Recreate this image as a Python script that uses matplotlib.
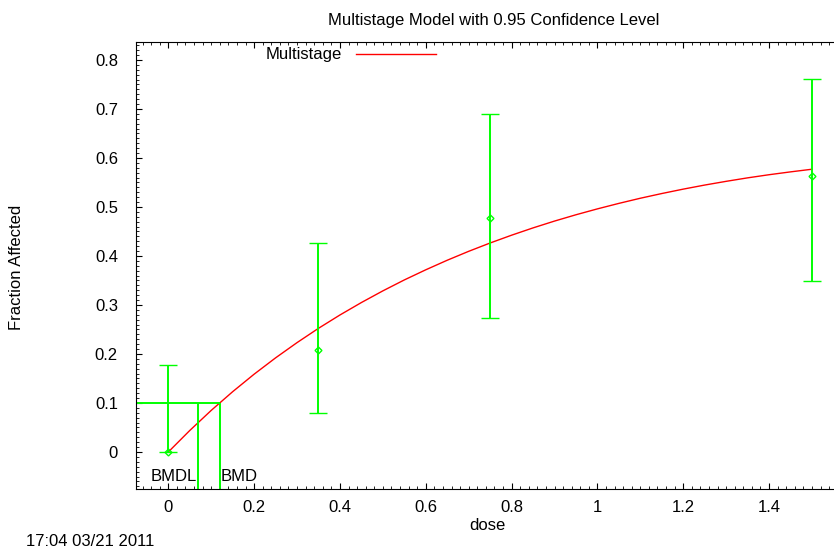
import matplotlib
matplotlib.use("Agg")
import matplotlib.pyplot as plt
from matplotlib.ticker import MultipleLocator

plt.rcParams['font.family'] = ['Liberation Sans', 'DejaVu Sans']

# observed data (dose, fraction affected, 95% CI)
dose = [0.0, 0.35, 0.75, 1.5]
frac = [0.0, 0.208, 0.478, 0.564]
ci_low = [0.0, 0.079, 0.273, 0.348]
ci_high = [0.177, 0.426, 0.689, 0.761]

# fitted multistage curve
curve_dose = [0.0, 0.05, 0.1, 0.15, 0.2, 0.25, 0.3, 0.35, 0.4, 0.45, 0.5, 0.55, 0.6, 0.65,
              0.7, 0.75, 0.8, 0.85, 0.9, 0.95, 1.0, 1.05, 1.1, 1.15, 1.2, 1.25, 1.3, 1.35,
              1.4, 1.45, 1.5]
curve_frac = [0.0, 0.0439, 0.0849, 0.1231, 0.1588, 0.1921, 0.2232, 0.2524, 0.2796, 0.3050,
              0.3288, 0.3511, 0.3718, 0.3913, 0.4095, 0.4265, 0.4424, 0.4573, 0.4712,
              0.4841, 0.4961, 0.5073, 0.5178, 0.5274, 0.5364, 0.5447, 0.5523, 0.5594,
              0.5658, 0.5716, 0.5770]

bmr = 0.1
bmdl = 0.070
bmd = 0.1205

xlim = (-0.0753, 1.549)
ylim = (-0.0755, 0.836)

green = '#00ff00'
red = '#ff0000'
fs = 12

fig = plt.figure(figsize=(8.34, 5.5), dpi=100)
ax = fig.add_axes([136 / 834, 1 - 489 / 550, 697 / 834, (489 - 42.3) / 550])

# model curve
ax.plot(curve_dose, curve_frac, color=red, lw=1.0, label='Multistage')

# data with error bars
yerr = [[f - lo for f, lo in zip(frac, ci_low)], [hi - f for f, hi in zip(frac, ci_high)]]
ax.errorbar(dose, frac, yerr=yerr, fmt='D', mfc='none', mec=green, ms=3.5, mew=1.0,
            ecolor=green, elinewidth=1.4, capsize=6.5, capthick=1.4, zorder=3)

# BMD / BMDL lines
ax.hlines(bmr, xlim[0], bmd, color=green, lw=1.4)
ax.vlines([bmdl, bmd], ylim[0], bmr, color=green, lw=1.4)
ax.text(bmdl - 0.004, -0.05, 'BMDL', ha='right', va='center', fontsize=fs)
ax.text(bmd + 0.001, -0.05, 'BMD', ha='left', va='center', fontsize=fs)

ax.set_xlim(*xlim)
ax.set_ylim(*ylim)
ax.xaxis.set_minor_locator(MultipleLocator(0.02))
ax.yaxis.set_minor_locator(MultipleLocator(0.01))
ax.set_xticks([0, 0.2, 0.4, 0.6, 0.8, 1.0, 1.2, 1.4])
ax.set_xticklabels(['0', '0.2', '0.4', '0.6', '0.8', '1', '1.2', '1.4'])
ax.set_yticks([0, 0.1, 0.2, 0.3, 0.4, 0.5, 0.6, 0.7, 0.8])
ax.set_yticklabels(['0', '0.1', '0.2', '0.3', '0.4', '0.5', '0.6', '0.7', '0.8'])
ax.tick_params(which='both', direction='in', top=True, right=False, labelsize=fs)
ax.tick_params(which='major', length=4.5, width=0.8)
ax.tick_params(which='minor', length=2.5, width=0.6)
ax.tick_params(axis='x', pad=8)
ax.tick_params(axis='y', pad=13)
ax.spines['right'].set_visible(False)

fig.text(487 / 834, 1 - 526 / 550, 'dose', ha='center', va='center', fontsize=fs)
fig.text(17 / 834, 1 - 267 / 550, 'Fraction Affected', ha='center', va='center',
         rotation=90, fontsize=fs)
fig.text(494 / 834, 1 - 25 / 550, 'Multistage Model with 0.95 Confidence Level',
         ha='center', va='baseline', fontsize=fs)
fig.text(26 / 834, 1 - 542 / 550, '17:04 03/21 2011', ha='left', va='center', fontsize=fs)

ax.legend(loc='center left', bbox_to_anchor=(266 / 834, 1 - 55 / 550),
          bbox_transform=fig.transFigure, frameon=False, markerfirst=False,
          borderpad=0, borderaxespad=0, handlelength=4.8, handletextpad=0.85, fontsize=fs)

fig.savefig('out.png', dpi=100)
